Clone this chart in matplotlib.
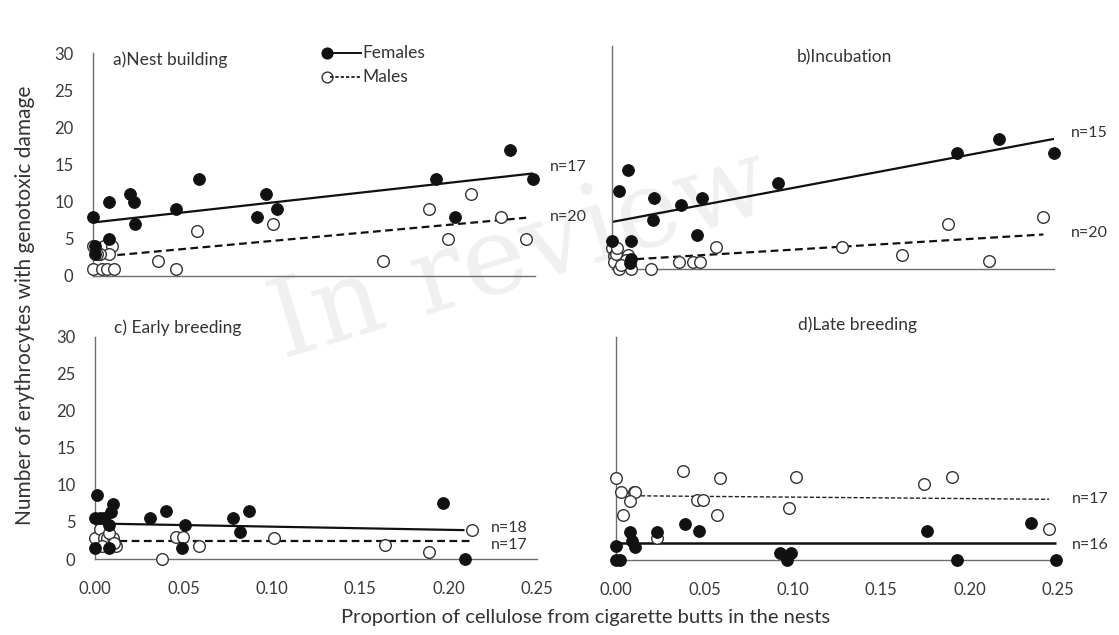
import numpy as np
import matplotlib.pyplot as plt

plt.rcParams['font.family'] = ['Lato', 'DejaVu Sans']

W, H = 1119, 635

# ---- data ----
# a) Nest building
a_fem_x = [0.000, 0.001, 0.001, 0.009, 0.009, 0.021, 0.023, 0.024, 0.047, 0.060,
           0.093, 0.098, 0.104, 0.194, 0.205, 0.236, 0.249]
a_fem_y = [8, 4, 3, 5, 10, 11, 10, 7, 9, 13, 8, 11, 9, 13, 8, 17, 13]
a_mal_x = [0.000, 0.005, 0.008, 0.012, 0.000, 0.006, 0.011, 0.009, 0.004, 0.002,
           0.037, 0.047, 0.059, 0.102, 0.164, 0.190, 0.201, 0.214, 0.231, 0.245]
a_mal_y = [1, 1, 1, 1, 4, 4, 4, 3, 3, 3, 2, 1, 6, 7, 2, 9, 5, 11, 8, 5]

# b) Incubation
b_fem_x = [0.000, 0.004, 0.009, 0.011, 0.010, 0.011, 0.024, 0.023, 0.039, 0.051,
           0.048, 0.094, 0.195, 0.219, 0.250]
b_fem_y = [3.7, 10.5, 13.3, 3.7, 0.8, 1.4, 9.5, 6.6, 8.6, 9.5, 4.6, 11.6, 15.6, 17.5, 15.6]
b_mal_x = [0.000, 0.001, 0.001, 0.004, 0.009, 0.011, 0.022, 0.002, 0.008, 0.005,
           0.003, 0.038, 0.046, 0.050, 0.059, 0.130, 0.164, 0.190, 0.213, 0.244]
b_mal_y = [2.8, 1.7, 0.9, 0.0, 1.9, 0.0, 0.0, 2.0, 1.2, 0.5,
           2.8, 0.9, 0.9, 0.9, 2.9, 2.9, 1.9, 6.0, 1.1, 7.0]

# c) Early breeding
c_fem_x = [0.001, 0.000, 0.003, 0.005, 0.000, 0.008, 0.010, 0.009, 0.008, 0.031,
           0.040, 0.051, 0.049, 0.078, 0.087, 0.082, 0.197, 0.209]
c_fem_y = [8.6, 5.5, 5.5, 5.5, 1.5, 4.6, 7.4, 6.4, 1.5, 5.5,
           6.5, 4.6, 1.5, 5.5, 6.5, 3.6, 7.6, 0.0]
c_mal_x = [0.000, 0.003, 0.005, 0.007, 0.010, 0.012, 0.004, 0.008, 0.011,
           0.038, 0.046, 0.050, 0.059, 0.101, 0.164, 0.189, 0.213]
c_mal_y = [2.9, 4.0, 2.9, 2.9, 2.9, 1.8, 1.8, 3.5, 2.2,
           0.0, 3.0, 3.0, 1.8, 2.9, 1.9, 1.0, 3.9]

# d) Late breeding
d_fem_x = [0.000, 0.000, 0.002, 0.008, 0.009, 0.011, 0.023, 0.039, 0.047, 0.093,
           0.099, 0.097, 0.176, 0.193, 0.235, 0.249]
d_fem_y = [1.9, 0.0, 0.0, 3.8, 2.6, 1.7, 3.8, 4.9, 3.9, 0.9,
           1.0, 0.0, 3.9, 0.0, 5.0, 0.0]
d_mal_x = [0.000, 0.003, 0.010, 0.011, 0.008, 0.004, 0.038, 0.059, 0.046, 0.049,
           0.057, 0.102, 0.098, 0.174, 0.190, 0.245, 0.023]
d_mal_y = [11.0, 9.1, 9.1, 9.1, 7.9, 6.1, 12.0, 11.0, 8.1, 8.1,
           6.1, 11.1, 7.0, 10.2, 11.1, 4.2, 3.0]

# linear trend lines (intercept, slope)
fits = {
    "a": {"fem": (7.2, 26.5), "mal": (2.52, 21.7)},
    "b": {"fem": (6.33, 44.7), "mal": (1.13, 14.4)},
    "c": {"fem": (4.8, -4.3), "mal": (2.45, 0.0)},
    "d": {"fem": (2.24, 0.0), "mal": (8.66, -2.0)},
}

titles = {"a": "a)Nest building", "b": "b)Incubation",
          "c": "c) Early breeding", "d": "d)Late breeding"}
n_labels = {"a": ("n=17", "n=20"), "b": ("n=15", "n=20"),
            "c": ("n=18", "n=17"), "d": ("n=17", "n=16")}

panels = {
    "a": (a_fem_x, a_fem_y, a_mal_x, a_mal_y),
    "b": (b_fem_x, b_fem_y, b_mal_x, b_mal_y),
    "c": (c_fem_x, c_fem_y, c_mal_x, c_mal_y),
    "d": (d_fem_x, d_fem_y, d_mal_x, d_mal_y),
}

# ---- layout in pixels: left, right, top (y=30), bottom (y=0) ----
boxes = {"a": (93, 535, 53, 276), "b": (612, 1054, 46, 269),
         "c": (95, 537, 337, 559), "d": (616, 1058, 337, 560)}


def fx(px):
    return px / W


def fy(py):
    return 1 - py / H


fig = plt.figure(figsize=(W / 100, H / 100), dpi=100)
fig.patch.set_facecolor("white")

# faint watermark behind everything
fig.text(fx(520), fy(255), "In review", fontsize=78, family="DejaVu Serif",
         color="#f0f0f0", rotation=17, ha="center", va="center", zorder=-5)

for key, (fx_, fy_, mx_, my_) in panels.items():
    L, R, T, B = boxes[key]
    ax = fig.add_axes([fx(L), fy(B), fx(R - L), (B - T) / H])
    ax.set_facecolor("none")
    ax.set_xlim(0, 0.25)
    ax.set_ylim(0, 30)
    for s in ["top", "right"]:
        ax.spines[s].set_visible(False)
    for s in ["left", "bottom"]:
        ax.spines[s].set_color("#6e6e6e")
        ax.spines[s].set_linewidth(1.0)
    ax.tick_params(length=0, labelsize=12, colors="#3a3a3a")
    ax.set_yticks(np.arange(0, 31, 5))
    ax.set_xticks(np.arange(0, 0.26, 0.05))
    ax.xaxis.set_major_formatter(plt.FuncFormatter(lambda v, p: f"{v:.2f}"))
    ax.tick_params(axis="y", pad=14)
    ax.tick_params(axis="x", pad=16)
    if key in ("a", "b"):
        ax.set_xticklabels([])
    if key in ("b", "d"):
        ax.set_yticklabels([])

    # trend lines over the data range
    b0, b1 = fits[key]["fem"]
    xf = np.array([min(fx_), max(fx_)])
    ax.plot(xf, b0 + b1 * xf, color="#111111", lw=1.8 if key == "d" else 1.6,
            solid_capstyle="butt", zorder=2, clip_on=False)
    b0, b1 = fits[key]["mal"]
    xm = np.array([min(mx_), max(mx_)])
    if key == "d":
        ax.plot(xm, b0 + b1 * xm, color="#222222", lw=1.0, ls=(0, (3, 1.5)),
                zorder=2, clip_on=False)
    else:
        ax.plot(xm, b0 + b1 * xm, color="#111111", lw=1.6, ls=(0, (3.5, 2)),
                zorder=2, clip_on=False)

    ax.scatter(mx_, my_, s=70, facecolor="white", edgecolor="#333333",
               linewidth=1.0, zorder=3, clip_on=False)
    ax.scatter(fx_, fy_, s=70, facecolor="#111111", edgecolor="#111111",
               linewidth=0.8, zorder=4, clip_on=False)

# panel titles
title_pos = {"a": (113, 60), "b": (797, 57), "c": (114, 328), "d": (798, 325)}
for key, (px, py) in title_pos.items():
    fig.text(fx(px), fy(py), titles[key], fontsize=12.5, color="#333333",
             ha="left", va="center")

# n labels (female, male)
n_pos = {"a": ((550, 167), (550, 217)), "b": ((1071, 133), (1071, 233)),
         "c": ((491, 528), (491, 545)), "d": ((1072, 499), (1072, 545))}
for key, (p1, p2) in n_pos.items():
    fig.text(fx(p1[0]), fy(p1[1]), n_labels[key][0], fontsize=11.5,
             color="#333333", ha="left", va="center")
    fig.text(fx(p2[0]), fy(p2[1]), n_labels[key][1], fontsize=11.5,
             color="#333333", ha="left", va="center")

# legend drawn by hand: marker, short line, label
lax = fig.add_axes([0, 0, 1, 1], zorder=10)
lax.set_xlim(0, W)
lax.set_ylim(H, 0)
lax.axis("off")
lax.plot([330, 361], [53, 53], color="#111111", lw=1.4)
lax.plot([330, 361], [77, 77], color="#111111", lw=1.2, ls=(0, (2, 1.2)))
lax.scatter([327], [53], s=60, facecolor="#111111", edgecolor="#111111")
lax.scatter([327], [77], s=60, facecolor="white", edgecolor="#333333", linewidth=1.0)
lax.text(362, 53, "Females", fontsize=12.5, color="#333333", va="center")
lax.text(362, 77, "Males", fontsize=12.5, color="#333333", va="center")

fig.text(fx(586), fy(618), "Proportion of cellulose from cigarette butts in the nests",
         fontsize=14.5, color="#333333", ha="center", va="center")
fig.text(fx(25), fy(305), "Number of erythrocytes with genotoxic damage",
         fontsize=15, color="#333333", ha="center", va="center", rotation=90)

fig.savefig("out.png", dpi=100)
